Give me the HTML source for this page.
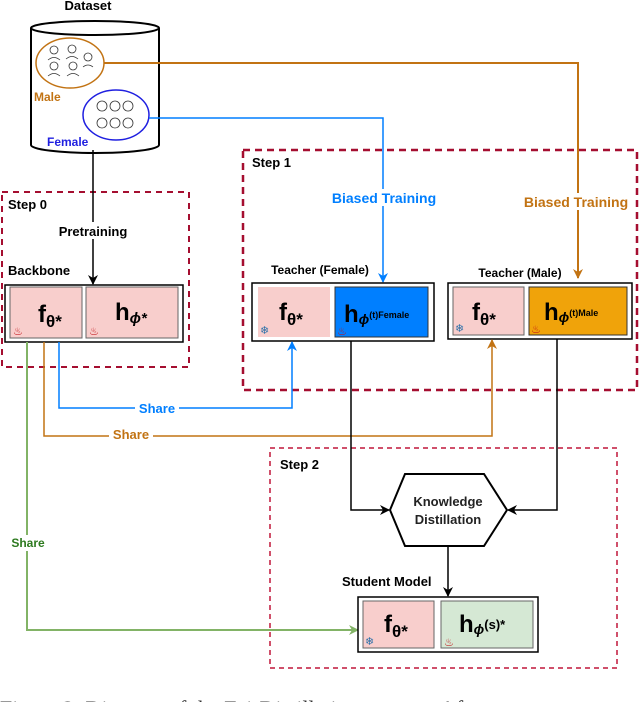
<!DOCTYPE html>
<html><head><meta charset="utf-8"><style>
html,body{margin:0;padding:0;background:#fff;}
svg{display:block;font-family:"Liberation Sans",sans-serif;}
.b{font-weight:bold;}
</style></head><body>
<svg width="640" height="702" viewBox="0 0 640 702" xmlns="http://www.w3.org/2000/svg">
<defs>
<marker id="ak" markerWidth="10" markerHeight="10" refX="9" refY="5" orient="auto" markerUnits="userSpaceOnUse"><path d="M0,0 L10,5 L0,10 L3,5 z" fill="#000"/></marker>
<marker id="ab" markerWidth="10" markerHeight="10" refX="9" refY="5" orient="auto" markerUnits="userSpaceOnUse"><path d="M0,0 L10,5 L0,10 L3,5 z" fill="#007fff"/></marker>
<marker id="ao" markerWidth="10" markerHeight="10" refX="9" refY="5" orient="auto" markerUnits="userSpaceOnUse"><path d="M0,0 L10,5 L0,10 L3,5 z" fill="#c27313"/></marker>
<marker id="ag" markerWidth="10" markerHeight="10" refX="9" refY="5" orient="auto" markerUnits="userSpaceOnUse"><path d="M0,0 L10,5 L0,10 L3,5 z" fill="#82b366"/></marker>
</defs>

<!-- dashed step boxes -->
<rect x="2" y="192" width="187" height="175" fill="none" stroke="#a50e30" stroke-width="2" stroke-dasharray="6,5"/>
<rect x="243" y="150" width="394" height="240" fill="none" stroke="#a50e30" stroke-width="2.5" stroke-dasharray="7,5"/>
<rect x="270" y="448" width="347" height="220" fill="none" stroke="#c0163a" stroke-width="1.5" stroke-dasharray="5,4"/>

<!-- dataset cylinder -->
<text x="88" y="10" text-anchor="middle" class="b" font-size="13">Dataset</text>
<path d="M31,28 L31,145 A64,8 0 0 0 159,145 L159,28" fill="#fff" stroke="#000" stroke-width="2"/>
<ellipse cx="95" cy="28" rx="64" ry="7" fill="#fff" stroke="#000" stroke-width="2"/>
<ellipse cx="70" cy="63" rx="34" ry="25" fill="none" stroke="#c27313" stroke-width="1.5"/>
<ellipse cx="116" cy="115" rx="33" ry="25" fill="none" stroke="#1f1fe0" stroke-width="1.5"/>
<g fill="none" stroke="#333" stroke-width="0.8">
<circle cx="54" cy="50" r="4"/><circle cx="72" cy="49" r="4"/><circle cx="88" cy="57" r="4"/>
<circle cx="54" cy="66" r="4"/><circle cx="73" cy="66" r="4"/>
<path d="M48,60 q6,-5 12,0 M66,59 q6,-5 12,0 M48,76 q6,-5 12,0 M67,76 q6,-5 12,0 M83,67 q5,-4 10,0"/>
<circle cx="102" cy="106" r="5"/><circle cx="115" cy="106" r="5"/><circle cx="128" cy="106" r="5"/>
<circle cx="102" cy="123" r="5"/><circle cx="115" cy="123" r="5"/><circle cx="128" cy="123" r="5"/>
</g>
<text x="34" y="101" class="b" font-size="12" fill="#c27313">Male</text>
<text x="47" y="146" class="b" font-size="12" fill="#1f1fe0">Female</text>

<!-- biased training lines -->
<path d="M104,63 H578 V278" fill="none" stroke="#c27313" stroke-width="2" marker-end="url(#ao)"/>
<path d="M149,118 H383 V282" fill="none" stroke="#007fff" stroke-width="1.5" marker-end="url(#ab)"/>
<rect x="326" y="189" width="116" height="17" fill="#fff"/>
<text x="384" y="203" text-anchor="middle" class="b" font-size="14" fill="#007fff">Biased Training</text>
<rect x="518" y="193" width="116" height="17" fill="#fff"/>
<text x="576" y="207" text-anchor="middle" class="b" font-size="14" fill="#c27313">Biased Training</text>

<!-- step labels -->
<text x="8" y="209" class="b" font-size="13">Step 0</text>
<text x="252" y="167" class="b" font-size="13">Step 1</text>
<text x="280" y="469" class="b" font-size="13">Step 2</text>

<!-- pretraining -->
<path d="M93,150 V284" fill="none" stroke="#000" stroke-width="1.5" marker-end="url(#ak)"/>
<rect x="48" y="222" width="90" height="17" fill="#fff"/>
<text x="93" y="236" text-anchor="middle" class="b" font-size="13">Pretraining</text>
<text x="8" y="275" class="b" font-size="13">Backbone</text>

<!-- backbone box -->
<rect x="5" y="285" width="178" height="57" fill="#fff" stroke="#000" stroke-width="1.5"/>
<rect x="10" y="287" width="72" height="51" fill="#f8cecc" stroke="#666" stroke-width="1"/>
<rect x="86" y="287" width="92" height="51" fill="#f8cecc" stroke="#666" stroke-width="1"/>
<text x="38" y="322" class="b" font-size="24">f<tspan font-size="17" dy="5">θ*</tspan></text>
<text x="115" y="320" class="b" font-size="24">h<tspan font-size="15" dy="3" font-style="italic">ϕ*</tspan></text>

<!-- teacher female -->
<text x="320" y="274" text-anchor="middle" class="b" font-size="12">Teacher (Female)</text>
<rect x="252" y="283" width="182" height="58" fill="#fff" stroke="#000" stroke-width="1.5"/>
<rect x="258" y="287" width="72" height="50" fill="#f8cecc"/>
<rect x="335" y="287" width="93" height="50" fill="#007fff" stroke="#333"/>
<text x="279" y="320" class="b" font-size="24">f<tspan font-size="17" dy="5">θ*</tspan></text>
<text x="344" y="322" class="b" font-size="24">h<tspan font-size="14" dy="2" font-style="italic">ϕ</tspan><tspan font-size="9" dy="-6">(t)Female</tspan></text>

<!-- teacher male -->
<text x="520" y="277" text-anchor="middle" class="b" font-size="12">Teacher (Male)</text>
<rect x="448" y="283" width="184" height="56" fill="#fff" stroke="#000" stroke-width="1.5"/>
<rect x="453" y="287" width="71" height="48" fill="#f8cecc" stroke="#666"/>
<rect x="529" y="287" width="98" height="48" fill="#f0a30a" stroke="#333"/>
<text x="472" y="320" class="b" font-size="24">f<tspan font-size="17" dy="5">θ*</tspan></text>
<text x="544" y="320" class="b" font-size="24">h<tspan font-size="14" dy="2" font-style="italic">ϕ</tspan><tspan font-size="9" dy="-6">(t)Male</tspan></text>

<!-- share lines -->
<path d="M59,342 V408 H292 V342" fill="none" stroke="#007fff" stroke-width="1.5" marker-end="url(#ab)"/>
<rect x="135" y="400" width="44" height="16" fill="#fff"/>
<text x="157" y="413" text-anchor="middle" class="b" font-size="13" fill="#007fff">Share</text>
<path d="M44,342 V436 H492 V340" fill="none" stroke="#c27313" stroke-width="1.5" marker-end="url(#ao)"/>
<rect x="109" y="427" width="44" height="16" fill="#fff"/>
<text x="131" y="439" text-anchor="middle" class="b" font-size="13" fill="#c27313">Share</text>
<path d="M27,342 V630 H358" fill="none" stroke="#82b366" stroke-width="2" marker-end="url(#ag)"/>
<rect x="6" y="535" width="44" height="16" fill="#fff"/>
<text x="28" y="547" text-anchor="middle" class="b" font-size="12" fill="#2d7a1f">Share</text>

<!-- to KD -->
<path d="M351,341 V510 H389" fill="none" stroke="#000" stroke-width="1.5" marker-end="url(#ak)"/>
<path d="M557,339 V510 H508" fill="none" stroke="#000" stroke-width="1.5" marker-end="url(#ak)"/>
<polygon points="390,510 405,474 484,474 507,510 484,546 405,546" fill="#fff" stroke="#000" stroke-width="2"/>
<text x="448" y="506" text-anchor="middle" class="b" font-size="13" fill="#222">Knowledge</text>
<text x="448" y="524" text-anchor="middle" class="b" font-size="13" fill="#222">Distillation</text>
<path d="M448,546 V596" fill="none" stroke="#000" stroke-width="1.5" marker-end="url(#ak)"/>

<!-- student -->
<text x="342" y="586" class="b" font-size="13">Student Model</text>
<rect x="358" y="597" width="180" height="55" fill="#fff" stroke="#000" stroke-width="1.5"/>
<rect x="363" y="601" width="71" height="47" fill="#f8cecc" stroke="#666"/>
<rect x="441" y="601" width="92" height="47" fill="#d5e8d4" stroke="#666"/>
<text x="384" y="632" class="b" font-size="24">f<tspan font-size="17" dy="5">θ*</tspan></text>
<text x="459" y="632" class="b" font-size="24">h<tspan font-size="14" dy="2" font-style="italic">ϕ</tspan><tspan font-size="13" dy="-5">(s)*</tspan></text>

<!-- icons: flames & snowflakes -->
<g fill="#c0141a" font-size="11">
<text x="13" y="335">♨</text><text x="89" y="335">♨</text><text x="337" y="335">♨</text><text x="531" y="333">♨</text><text x="444" y="646">♨</text>
</g>
<g fill="#2a6fa8" font-size="11">
<text x="260" y="334">❄</text><text x="455" y="332">❄</text><text x="365" y="645">❄</text>
</g>

<!-- caption (cut off) -->
<text x="0" y="716" font-family="Liberation Serif,serif" font-size="22" fill="#333">Figure 2:  Diagram of the FairDistillation process. After</text>
</svg>
</body></html>
